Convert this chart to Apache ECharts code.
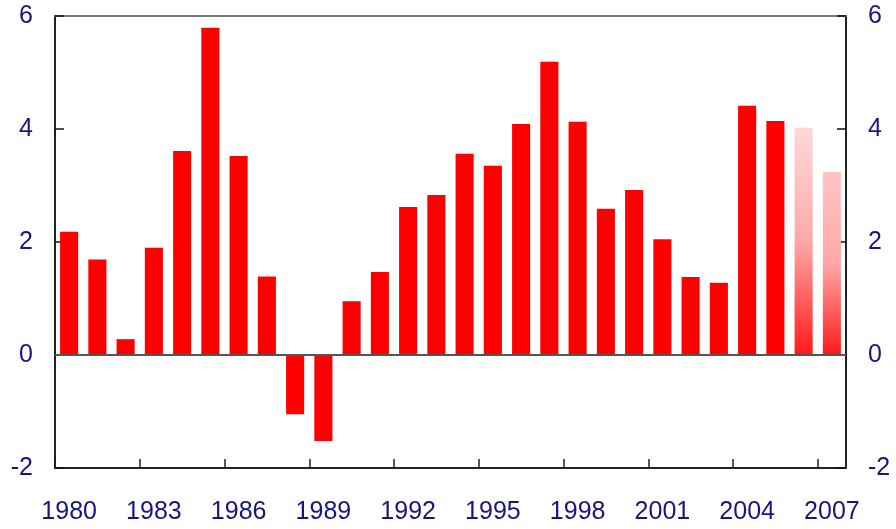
<!DOCTYPE html>
<html>
<head>
<meta charset="utf-8">
<script src="https://cdn.jsdelivr.net/npm/echarts@6/dist/echarts.min.js"></script>
<style>
  html, body { margin: 0; padding: 0; background: #fff; }
  #chart { width: 896px; height: 529px; }
</style>
</head>
<body>
<div id="chart"></div>
<script>
var years = ['1980','1981','1982','1983','1984','1985','1986','1987','1988','1989',
             '1990','1991','1992','1993','1994','1995','1996','1997','1998','1999',
             '2000','2001','2002','2003','2004','2005','2006','2007'];
var growth = [2.18, 1.69, 0.28, 1.90, 3.61, 5.79, 3.52, 1.39, -1.05, -1.52,
              0.95, 1.47, 2.62, 2.83, 3.56, 3.35, 4.09, 5.19, 4.13, 2.59,
              2.92, 2.05, 1.38, 1.28, 4.41, 4.14, 4.02, 3.24];
// last two years are forecasts (drawn faded)
var forecastYears = ['2006', '2007'];
var yTicks = [-2, 0, 2, 4, 6];

var txt = '#16167f';
var font = 'Liberation Sans, Arial, sans-serif';

var fadeTop = { '2006': '#ffd8d8', '2007': '#ffc4c4' };

var barData = growth.map(function (v, i) {
    var y = years[i];
    if (forecastYears.indexOf(y) < 0) return v;
    return {
        value: v,
        itemStyle: {
            color: new echarts.graphic.LinearGradient(0, 0, 0, 1, [
                { offset: 0, color: fadeTop[y] },
                { offset: 0.5, color: '#ffa8a8' },
                { offset: 1, color: '#ff1a1a' }
            ])
        }
    };
});

var chart = echarts.init(document.getElementById('chart'), null, { renderer: 'canvas' });

var yAxisCommon = {
    type: 'value',
    min: yTicks[0],
    max: yTicks[yTicks.length - 1],
    interval: 2,
    splitLine: { show: false },
    axisTick: { show: true, inside: true, length: 9, lineStyle: { color: '#111', width: 1.5 } },
    axisLine: { show: true, lineStyle: { color: '#222', width: 2 } },
    axisLabel: { color: txt, fontSize: 25, fontFamily: font, margin: 22, padding: [5, 0, 0, 0] }
};

chart.setOption({
    animation: false,
    grid: { left: 55, right: 50, top: 16, bottom: 61 },
    xAxis: [{
        type: 'category',
        data: years,
        position: 'bottom',
        axisLine: { onZero: false, lineStyle: { color: '#222', width: 2 } },
        axisTick: { show: true, inside: true, length: 9, interval: 2, alignWithLabel: false,
                    lineStyle: { color: '#222', width: 1.5 } },
        axisLabel: { interval: 2, color: txt, fontSize: 25, fontFamily: font, margin: 32 },
        splitLine: { show: false }
    }, {
        type: 'category',
        data: years,
        position: 'top',
        axisLine: { onZero: false, lineStyle: { color: '#7a7a7a', width: 2 } },
        axisTick: { show: false },
        axisLabel: { show: false }
    }],
    yAxis: [
        Object.assign({ position: 'left' }, yAxisCommon),
        Object.assign({ position: 'right' }, yAxisCommon)
    ],
    series: [{
        type: 'bar',
        data: barData,
        barWidth: '64%',
        itemStyle: { color: '#ff0000' },
        markLine: {
            silent: true,
            symbol: 'none',
            label: { show: false },
            lineStyle: { color: '#555', width: 2, type: 'solid' },
            data: [{ yAxis: 0 }]
        }
    }]
});
</script>
</body>
</html>
